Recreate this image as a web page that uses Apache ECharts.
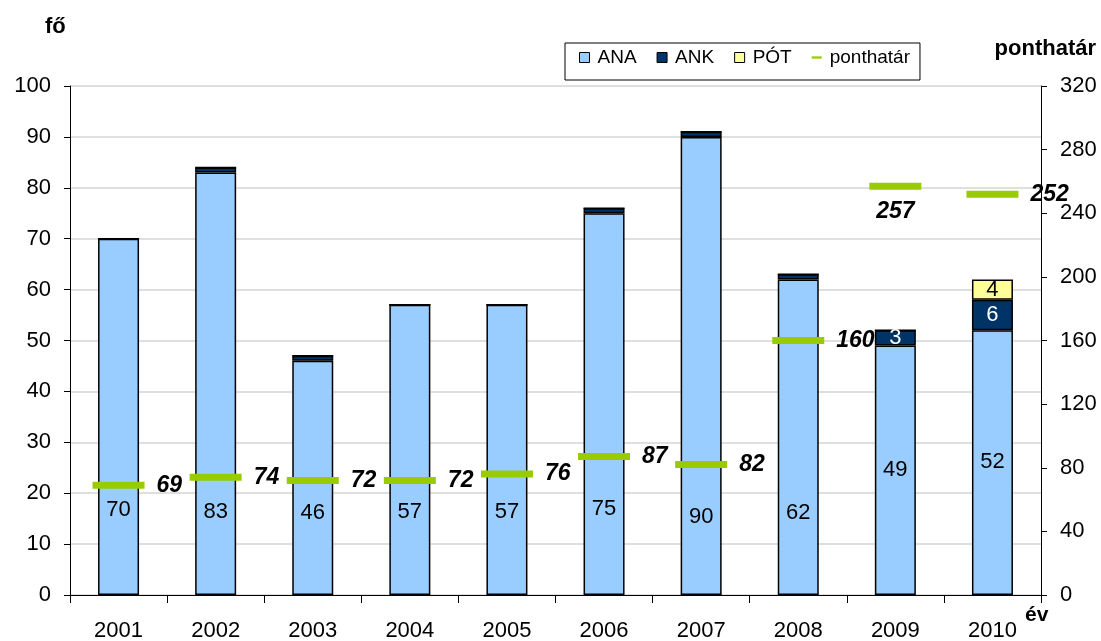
<!DOCTYPE HTML>
<html><head>
<meta charset="utf-8">
<title>ponthatár</title>
<script src="https://cdn.jsdelivr.net/npm/echarts@6/dist/echarts.min.js"></script>
<style>
body{margin:0;background:#fff;}
#main_chart{width:1101px;height:641px;}
</style>
</head>
<body>
<div id="main_chart"></div>
<script type="text/javascript">
// adatok
var years = ['2001','2002','2003','2004','2005','2006','2007','2008','2009','2010'];
var ana = [70, 83, 46, 57, 57, 75, 90, 62, 49, 52];
var ank = [0, 1, 1, 0, 0, 1, 1, 1, 3, 6];
var pot = [0, 0, 0, 0, 0, 0, 0, 0, 0, 4];
var ponthatar = [69, 74, 72, 72, 76, 87, 82, 160, 257, 252];
var leftTicks = {min: 0, max: 100, interval: 10};
var rightTicks = {min: 0, max: 320, interval: 40};

// felirat elhelyezes (stilus, nem adat)
var anaLabelLift = [74, 72, 71, 72, 72, 75, 67, 71, 114, 122];

var FONT = '"Liberation Sans", Arial, sans-serif';
var myChart = echarts.init(document.getElementById('main_chart'));

var anaData = ana.map(function (v, i) {
    return {value: v, label: {distance: anaLabelLift[i]}};
});
var pontData = ponthatar.map(function (v, i) {
    if (years[i] === '2009') {
        return {value: v, label: {position: 'bottom', distance: 10}};
    }
    return v;
});

var barBorder = {borderColor: '#000', borderWidth: 1.5};

option = {
    backgroundColor: '#fff',
    animation: false,
    textStyle: {fontFamily: FONT},
    grid: {left: 70, right: 60, top: 86, bottom: 46, outerBoundsMode: 'none', containLabel: false},
    legend: {
        left: 565,
        top: 43,
        padding: [5, 10, 13, 14],
        borderColor: '#000',
        borderWidth: 1,
        itemWidth: 10,
        itemHeight: 10,
        itemGap: 20,
        textStyle: {fontSize: 19, color: '#000', fontFamily: FONT, padding: [0, 0, 0, 3]},
        data: [
            {name: 'ANA', icon: 'rect', itemStyle: {borderColor: '#000', borderWidth: 1}},
            {name: 'ANK', icon: 'rect', itemStyle: {borderColor: '#000', borderWidth: 1}},
            {name: 'PÓT', icon: 'rect', itemStyle: {borderColor: '#000', borderWidth: 1}},
            {name: 'ponthatár', icon: 'path://M0,0h13v3h-13z'}
        ]
    },
    xAxis: {
        type: 'category',
        data: years,
        axisLine: {lineStyle: {color: '#000', width: 1}},
        axisTick: {show: true, length: 8, interval: 0, lineStyle: {color: '#000'}},
        axisLabel: {fontSize: 22, color: '#000', margin: 25, interval: 0}
    },
    yAxis: [
        {
            type: 'value',
            min: leftTicks.min, max: leftTicks.max, interval: leftTicks.interval,
            axisLine: {show: true, lineStyle: {color: '#000'}},
            axisTick: {show: true, length: 6, lineStyle: {color: '#000'}},
            axisLabel: {fontSize: 22, color: '#000', margin: 19},
            splitLine: {lineStyle: {color: '#d4d4d4', width: 1.5}}
        },
        {
            type: 'value',
            min: rightTicks.min, max: rightTicks.max, interval: rightTicks.interval,
            axisLine: {show: true, lineStyle: {color: '#000'}},
            axisTick: {show: true, length: 6, lineStyle: {color: '#000'}},
            axisLabel: {fontSize: 22, color: '#000', margin: 19},
            splitLine: {show: false}
        }
    ],
    graphic: [
        {type: 'text', left: 45, top: 16, style: {text: 'fő', font: 'bold 22px ' + FONT, fill: '#000'}},
        {type: 'text', right: 5, top: 38, style: {text: 'ponthatár', font: 'bold 22px ' + FONT, fill: '#000'}},
        {type: 'text', left: 1025, top: 605, style: {text: 'év', font: 'bold 21px ' + FONT, fill: '#000'}}
    ],
    series: [
        {
            name: 'ANA',
            type: 'bar',
            stack: 'fo',
            barWidth: 41,
            data: anaData,
            itemStyle: Object.assign({color: '#99CCFF'}, barBorder),
            label: {show: true, position: 'insideBottom', fontSize: 22, color: '#000'}
        },
        {
            name: 'ANK',
            type: 'bar',
            stack: 'fo',
            data: ank,
            itemStyle: Object.assign({color: '#003366'}, barBorder),
            label: {
                show: true, position: 'inside', fontSize: 22, color: '#fff',
                formatter: function (p) { return p.value >= 2 ? p.value : ''; }
            }
        },
        {
            name: 'PÓT',
            type: 'bar',
            stack: 'fo',
            data: pot,
            itemStyle: Object.assign({color: '#FFFF99'}, barBorder),
            label: {
                show: true, position: 'inside', fontSize: 22, color: '#000',
                formatter: function (p) { return p.value > 0 ? p.value : ''; }
            }
        },
        {
            name: 'ponthatár',
            type: 'scatter',
            yAxisIndex: 1,
            symbol: 'rect',
            symbolSize: [52, 7],
            z: 5,
            itemStyle: {color: '#99CC00', opacity: 1},
            data: pontData,
            label: {
                show: true, position: 'right', distance: 12, opacity: 1,
                fontSize: 23, fontWeight: 'bold', fontStyle: 'italic', color: '#000',
                textBorderWidth: 0
            }
        }
    ]
};

myChart.setOption(option);
</script>
</body>
</html>
